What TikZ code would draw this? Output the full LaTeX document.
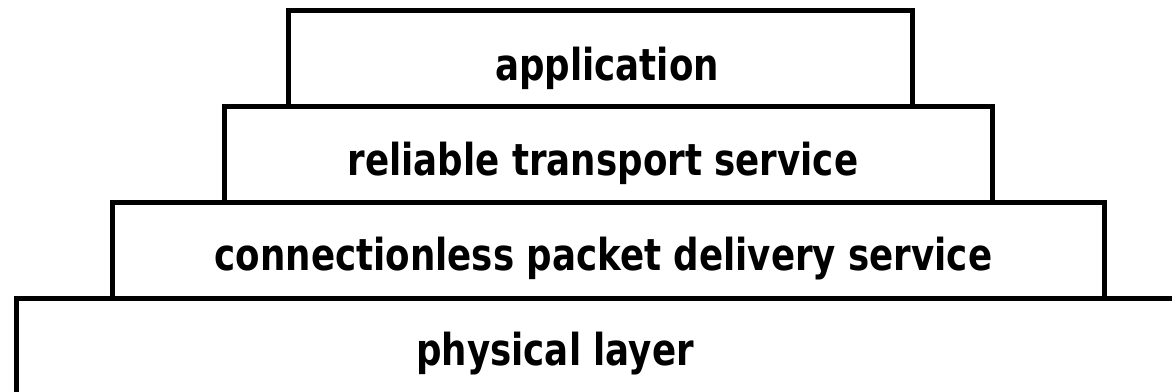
\documentclass[tikz,border=0pt]{standalone}
\usepackage{fontspec}
\newfontfamily\layerfont{DejaVu Sans}[FakeStretch=0.81]
\tikzset{
  layerbox/.style={draw,rectangle,line width=5pt,inner sep=0pt,minimum height=96pt},
  layertext/.style={anchor=base,inner sep=0pt,font=\layerfont\bfseries\fontsize{44}{44}\selectfont},
}
\begin{document}
\begin{tikzpicture}[x=1pt,y=-1pt]
\useasboundingbox (0,0) rectangle (1172,391);
\clip (0,0) rectangle (1172,391);
%%
\node (app) at (600.5,58.5) [layerbox,minimum width=624pt] {};
\node (tcp) at (608.5,154.5) [layerbox,minimum width=768pt] {};
\node (ip) at (608.5,250.5) [layerbox,minimum width=992pt] {};
\node (phy) at (608.5,346.5) [layerbox,minimum width=1184pt] {};
%
\node (appLabel) at (607,80) [layertext] {application};
\node (tcpLabel) at (603,175) [layertext] {reliable transport service};
\node (ipLabel) at (603.5,270) [layertext] {connectionless packet delivery service};
\node (phyLabel) at (555,365) [layertext] {physical layer};
%
\end{tikzpicture}
\end{document}
